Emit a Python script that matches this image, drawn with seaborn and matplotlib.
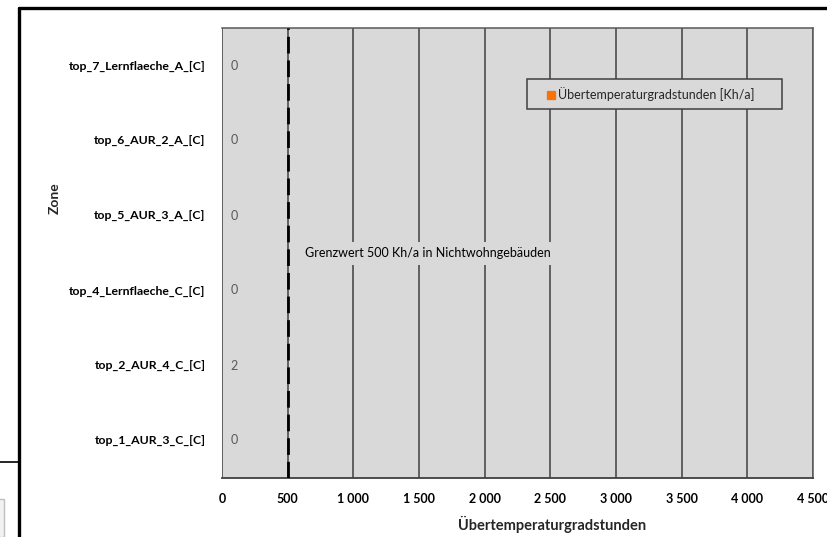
import numpy as np
import pandas as pd
import matplotlib
matplotlib.use("Agg")
import matplotlib.pyplot as plt
from matplotlib.lines import Line2D
from matplotlib.patches import Rectangle
from matplotlib.ticker import FuncFormatter, MultipleLocator
import seaborn as sns

# ---------- data ----------
zones = [
    "top_7_Lernflaeche_A_[C]",
    "top_6_AUR_2_A_[C]",
    "top_5_AUR_3_A_[C]",
    "top_4_Lernflaeche_C_[C]",
    "top_2_AUR_4_C_[C]",
    "top_1_AUR_3_C_[C]",
]
hours = [0.0, 0.0, 0.4, 0.0, 2.0, 0.3]
limit = 500
limit_text = "Grenzwert 500 Kh/a in Nichtwohngebäuden"
series_name = "Übertemperaturgradstunden [Kh/a]"
x_label = "Übertemperaturgradstunden"
y_label = "Zone"

df = pd.DataFrame({"zone": zones, "value": hours})

# ---------- style ----------
sns.set_theme(style="white")
plt.rcParams["font.family"] = ["Lato", "DejaVu Sans"]

BG = "#D9D9D9"
GRID = "#404040"
ORANGE = "#F5720F"
W, H = 828, 537

fig = plt.figure(figsize=(W / 100, H / 100), dpi=100)
ax = fig.add_axes([222 / W, 1 - 478 / H, (813 - 222) / W, (478 - 28) / H])
ax.set_facecolor(BG)

# pixel -> axes fraction helpers (plot area is 591 x 450 px)
def ax_x(px):
    return (px - 222) / 591

def ax_y(py):
    return 1 - (py - 28) / 450

sns.barplot(data=df, x="value", y="zone", orient="h", color=ORANGE,
            width=0.36, ax=ax, saturation=1, linewidth=0)

ax.set_xlim(0, 4500)
ax.xaxis.set_major_locator(MultipleLocator(500))
ax.xaxis.set_major_formatter(FuncFormatter(lambda v, p: f"{int(v):,}".replace(",", " ")))
ax.grid(axis="x", color=GRID, linewidth=1.1, zorder=0)
ax.set_axisbelow(True)

# limit line
ax.axvline(limit, color="black", linewidth=2, dashes=(6, 2.5), zorder=3)
ax.text(632, 2.5, limit_text, ha="left", va="center", fontsize=9,
        color="black", zorder=4,
        bbox=dict(facecolor=BG, edgecolor="none", pad=4))

# value labels
for container in ax.containers:
    ax.bar_label(container, labels=[f"{v:.0f}" for v in hours], padding=6,
                 fontsize=9, color="#595959")

ax.spines["left"].set_visible(False)
for s in ["top", "right"]:
    ax.spines[s].set_color("#595959")
    ax.spines[s].set_linewidth(1.1)
ax.spines["bottom"].set_color("#404040")
ax.spines["bottom"].set_linewidth(1.3)

ax.tick_params(axis="both", length=0, labelsize=9)
ax.tick_params(axis="y", pad=12, labelsize=8.8)
ax.tick_params(axis="x", pad=11)
for lbl in ax.get_xticklabels() + ax.get_yticklabels():
    lbl.set_fontweight("bold")
    lbl.set_color("black")

ax.set_xlabel(x_label, fontsize=10.5, fontweight="bold", labelpad=8)
ax.xaxis.set_label_coords(ax_x(552), -0.085)
ax.set_ylabel("")
fig.text(55 / W, 1 - 198 / H, y_label, rotation=90, ha="center", va="center",
         fontsize=10, fontweight="bold")

# legend (Excel style frame, wider than its content)
ax.add_patch(Rectangle((ax_x(527), ax_y(109)), ax_x(782) - ax_x(527), ax_y(79) - ax_y(109),
                       transform=ax.transAxes, facecolor=BG, edgecolor="#404040",
                       linewidth=1.1, zorder=5))
handle = Line2D([], [], marker="s", linestyle="none", color=ORANGE, markersize=5.5)
leg = ax.legend([handle], [series_name], loc="center left",
                bbox_to_anchor=(ax_x(546), ax_y(94)),
                frameon=False, fontsize=9, labelcolor="#262626",
                borderpad=0, handletextpad=0.2, borderaxespad=0,
                handlelength=0.8)
leg.set_zorder(6)

# screenshot frame around the chart
fig.add_artist(Line2D([19 / W, 19 / W], [0, 1 - 8 / H], color="black",
                      linewidth=2.4, transform=fig.transFigure))
fig.add_artist(Line2D([19 / W, 1], [1 - 8 / H, 1 - 8 / H], color="black",
                      linewidth=2.4, transform=fig.transFigure))
fig.add_artist(Line2D([0, 19 / W], [1 - 462 / H, 1 - 462 / H], color="black",
                      linewidth=1.2, transform=fig.transFigure))
fig.add_artist(Rectangle((-4 / W, 0), 8 / W, 38 / H, facecolor="#F2F2F2",
                         edgecolor="#BFBFBF", linewidth=1, transform=fig.transFigure))

fig.savefig("out.png", dpi=100)
